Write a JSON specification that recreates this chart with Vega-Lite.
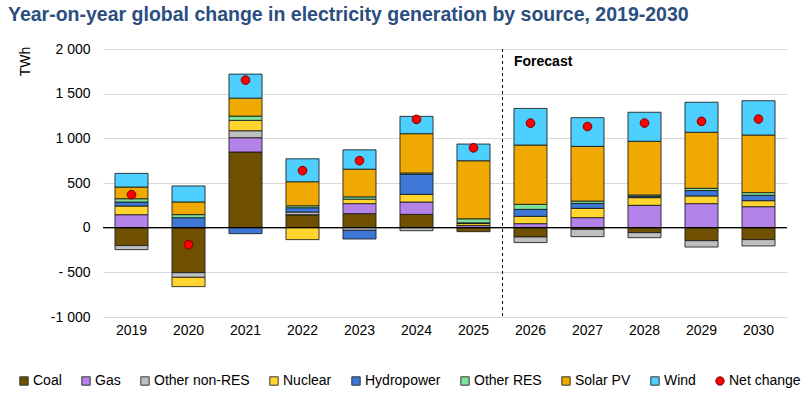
{
  "$schema": "https://vega.github.io/schema/vega-lite/v6.json",
  "width": 684,
  "height": 268,
  "autosize": {"type": "none"},
  "padding": {"left": 103, "top": 49, "right": 24, "bottom": 76},
  "background": "white",
  "config": {
    "font": "Liberation Sans",
    "view": {"stroke": null},
    "axis": {"labelFont": "Liberation Sans", "labelFontSize": 14, "labelColor": "#000", "titleFont": "Liberation Sans"},
    "legend": {"labelFont": "Liberation Sans"}
  },
  "title": {
    "text": "Year-on-year global change in electricity generation by source, 2019-2030",
    "anchor": "start",
    "frame": "group",
    "dx": -95,
    "offset": 17,
    "fontSize": 19.5,
    "fontWeight": "bold",
    "color": "#2B4E80",
    "font": "Liberation Sans"
  },
  "data": {
    "values": [
      {"year": "2019", "source": "Coal", "value": -201},
      {"year": "2019", "source": "Gas", "value": 145},
      {"year": "2019", "source": "Other non-RES", "value": -45},
      {"year": "2019", "source": "Nuclear", "value": 97},
      {"year": "2019", "source": "Hydropower", "value": 45},
      {"year": "2019", "source": "Other RES", "value": 37},
      {"year": "2019", "source": "Solar PV", "value": 131},
      {"year": "2019", "source": "Wind", "value": 153},
      {"year": "2019", "source": "Net change", "value": 369},
      {"year": "2020", "source": "Coal", "value": -504},
      {"year": "2020", "source": "Gas", "value": 0},
      {"year": "2020", "source": "Other non-RES", "value": -52},
      {"year": "2020", "source": "Nuclear", "value": -104},
      {"year": "2020", "source": "Hydropower", "value": 112},
      {"year": "2020", "source": "Other RES", "value": 34},
      {"year": "2020", "source": "Solar PV", "value": 142},
      {"year": "2020", "source": "Wind", "value": 179},
      {"year": "2020", "source": "Net change", "value": -190},
      {"year": "2021", "source": "Coal", "value": 847},
      {"year": "2021", "source": "Gas", "value": 160},
      {"year": "2021", "source": "Other non-RES", "value": 78},
      {"year": "2021", "source": "Nuclear", "value": 116},
      {"year": "2021", "source": "Hydropower", "value": -67},
      {"year": "2021", "source": "Other RES", "value": 48},
      {"year": "2021", "source": "Solar PV", "value": 201},
      {"year": "2021", "source": "Wind", "value": 269},
      {"year": "2021", "source": "Net change", "value": 1652},
      {"year": "2022", "source": "Coal", "value": 145},
      {"year": "2022", "source": "Gas", "value": 0},
      {"year": "2022", "source": "Other non-RES", "value": 30},
      {"year": "2022", "source": "Nuclear", "value": -134},
      {"year": "2022", "source": "Hydropower", "value": 48},
      {"year": "2022", "source": "Other RES", "value": 22},
      {"year": "2022", "source": "Solar PV", "value": 269},
      {"year": "2022", "source": "Wind", "value": 257},
      {"year": "2022", "source": "Net change", "value": 638},
      {"year": "2023", "source": "Coal", "value": 157},
      {"year": "2023", "source": "Gas", "value": 112},
      {"year": "2023", "source": "Other non-RES", "value": -30},
      {"year": "2023", "source": "Nuclear", "value": 50},
      {"year": "2023", "source": "Hydropower", "value": -97},
      {"year": "2023", "source": "Other RES", "value": 26},
      {"year": "2023", "source": "Solar PV", "value": 310},
      {"year": "2023", "source": "Wind", "value": 216},
      {"year": "2023", "source": "Net change", "value": 750},
      {"year": "2024", "source": "Coal", "value": 149},
      {"year": "2024", "source": "Gas", "value": 138},
      {"year": "2024", "source": "Other non-RES", "value": -34},
      {"year": "2024", "source": "Nuclear", "value": 86},
      {"year": "2024", "source": "Hydropower", "value": 224},
      {"year": "2024", "source": "Other RES", "value": 15},
      {"year": "2024", "source": "Solar PV", "value": 440},
      {"year": "2024", "source": "Wind", "value": 194},
      {"year": "2024", "source": "Net change", "value": 1212},
      {"year": "2025", "source": "Coal", "value": -45},
      {"year": "2025", "source": "Gas", "value": 24},
      {"year": "2025", "source": "Other non-RES", "value": 0},
      {"year": "2025", "source": "Nuclear", "value": 22},
      {"year": "2025", "source": "Hydropower", "value": 8},
      {"year": "2025", "source": "Other RES", "value": 45},
      {"year": "2025", "source": "Solar PV", "value": 650},
      {"year": "2025", "source": "Wind", "value": 187},
      {"year": "2025", "source": "Net change", "value": 893},
      {"year": "2026", "source": "Coal", "value": -104},
      {"year": "2026", "source": "Gas", "value": 45},
      {"year": "2026", "source": "Other non-RES", "value": -63},
      {"year": "2026", "source": "Nuclear", "value": 82},
      {"year": "2026", "source": "Hydropower", "value": 78},
      {"year": "2026", "source": "Other RES", "value": 56},
      {"year": "2026", "source": "Solar PV", "value": 664},
      {"year": "2026", "source": "Wind", "value": 410},
      {"year": "2026", "source": "Net change", "value": 1170},
      {"year": "2027", "source": "Coal", "value": -19},
      {"year": "2027", "source": "Gas", "value": 112},
      {"year": "2027", "source": "Other non-RES", "value": -82},
      {"year": "2027", "source": "Nuclear", "value": 104},
      {"year": "2027", "source": "Hydropower", "value": 56},
      {"year": "2027", "source": "Other RES", "value": 26},
      {"year": "2027", "source": "Solar PV", "value": 612},
      {"year": "2027", "source": "Wind", "value": 321},
      {"year": "2027", "source": "Net change", "value": 1132},
      {"year": "2028", "source": "Coal", "value": -56},
      {"year": "2028", "source": "Gas", "value": 250},
      {"year": "2028", "source": "Other non-RES", "value": -56},
      {"year": "2028", "source": "Nuclear", "value": 86},
      {"year": "2028", "source": "Hydropower", "value": 15},
      {"year": "2028", "source": "Other RES", "value": 15},
      {"year": "2028", "source": "Solar PV", "value": 601},
      {"year": "2028", "source": "Wind", "value": 325},
      {"year": "2028", "source": "Net change", "value": 1171},
      {"year": "2029", "source": "Coal", "value": -146},
      {"year": "2029", "source": "Gas", "value": 269},
      {"year": "2029", "source": "Other non-RES", "value": -71},
      {"year": "2029", "source": "Nuclear", "value": 86},
      {"year": "2029", "source": "Hydropower", "value": 60},
      {"year": "2029", "source": "Other RES", "value": 26},
      {"year": "2029", "source": "Solar PV", "value": 627},
      {"year": "2029", "source": "Wind", "value": 336},
      {"year": "2029", "source": "Net change", "value": 1190},
      {"year": "2030", "source": "Coal", "value": -134},
      {"year": "2030", "source": "Gas", "value": 235},
      {"year": "2030", "source": "Other non-RES", "value": -71},
      {"year": "2030", "source": "Nuclear", "value": 67},
      {"year": "2030", "source": "Hydropower", "value": 60},
      {"year": "2030", "source": "Other RES", "value": 30},
      {"year": "2030", "source": "Solar PV", "value": 645},
      {"year": "2030", "source": "Wind", "value": 384},
      {"year": "2030", "source": "Net change", "value": 1216}
    ]
  },
  "encoding": {
    "x": {
      "field": "year",
      "type": "ordinal",
      "scale": {"paddingInner": 0.42, "paddingOuter": 0.21},
      "axis": {"title": null, "labelAngle": 0, "ticks": false, "domain": false, "labelPadding": 6, "labelFontSize": 14, "grid": false}
    }
  },
  "layer": [
    {
      "transform": [
        {"filter": "datum.source !== 'Net change'"},
        {"calculate": "indexof(['Coal','Gas','Other non-RES','Nuclear','Hydropower','Other RES','Solar PV','Wind'], datum.source)", "as": "k"}
      ],
      "mark": {"type": "bar", "stroke": "#1a1a1a", "strokeWidth": 1, "strokeOpacity": 0.85},
      "encoding": {
        "y": {
          "field": "value",
          "type": "quantitative",
          "stack": "zero",
          "scale": {"domain": [-1000, 2000], "nice": false},
          "axis": {
            "title": "TWh",
            "titleFontSize": 14,
            "titleFontWeight": "normal",
            "titleColor": "#000",
            "titleAngle": -90,
            "titleAlign": "center",
            "titleBaseline": "middle",
            "titleX": -78,
            "titleY": 12,
            "values": [-1000, -500, 0, 500, 1000, 1500, 2000],
            "labelExpr": "datum.value == 0 ? '0' : (datum.value < 0 ? (datum.value > -1000 ? '- ' : '-') : '') + replace(format(abs(datum.value), ','), ',', ' ')",
            "ticks": false,
            "domain": false,
            "labelPadding": 13,
            "gridColor": "#d9d9d9",
            "gridWidth": 1
          }
        },
        "color": {
          "field": "source",
          "type": "nominal",
          "scale": {
            "domain": ["Coal", "Gas", "Other non-RES", "Nuclear", "Hydropower", "Other RES", "Solar PV", "Wind", "Net change"],
            "range": ["#6E5000", "#B383EA", "#BFBFBF", "#FFD52E", "#3D78D6", "#7EE49C", "#F0A900", "#4DD0FF", "#FF0000"]
          },
          "legend": {
            "title": null,
            "orient": "none",
            "direction": "horizontal",
            "legendX": -86,
            "legendY": 325,
            "labelFontSize": 14,
            "labelColor": "#000",
            "labelOffset": 2,
            "columnPadding": 17,
            "symbolSize": 70,
            "symbolType": "square",
            "symbolStrokeColor": "#333",
            "symbolStrokeWidth": 1,
            "encode": {
              "symbols": {
                "update": {
                  "shape": {"signal": "datum.value === 'Net change' ? 'circle' : 'square'"},
                  "stroke": {"signal": "datum.value === 'Net change' ? '#7a0000' : '#333333'"}
                }
              }
            }
          }
        },
        "order": {"field": "k", "type": "quantitative"}
      }
    },
    {
      "data": {"values": [{}]},
      "mark": {"type": "rule", "color": "#000", "strokeWidth": 1.2},
      "encoding": {"y": {"datum": 0}, "x": null}
    },
    {
      "data": {"values": [{}]},
      "mark": {"type": "rule", "color": "#000", "strokeWidth": 1, "strokeDash": [3, 3], "xOffset": 12.5},
      "encoding": {"x": {"datum": "2025", "bandPosition": 1}}
    },
    {
      "data": {"values": [{}]},
      "mark": {"type": "text", "text": "Forecast", "fontWeight": "bold", "fontSize": 14, "align": "left", "baseline": "middle", "color": "#000"},
      "encoding": {"x": {"datum": "2026", "bandPosition": 0}, "y": {"datum": 1850}}
    },
    {
      "transform": [{"filter": "datum.source === 'Net change'"}],
      "mark": {"type": "point", "filled": true, "size": 75, "fill": "#FF0000", "stroke": "#7a0000", "strokeWidth": 1, "opacity": 1},
      "encoding": {
        "y": {"field": "value", "type": "quantitative"}
      }
    }
  ]
}
